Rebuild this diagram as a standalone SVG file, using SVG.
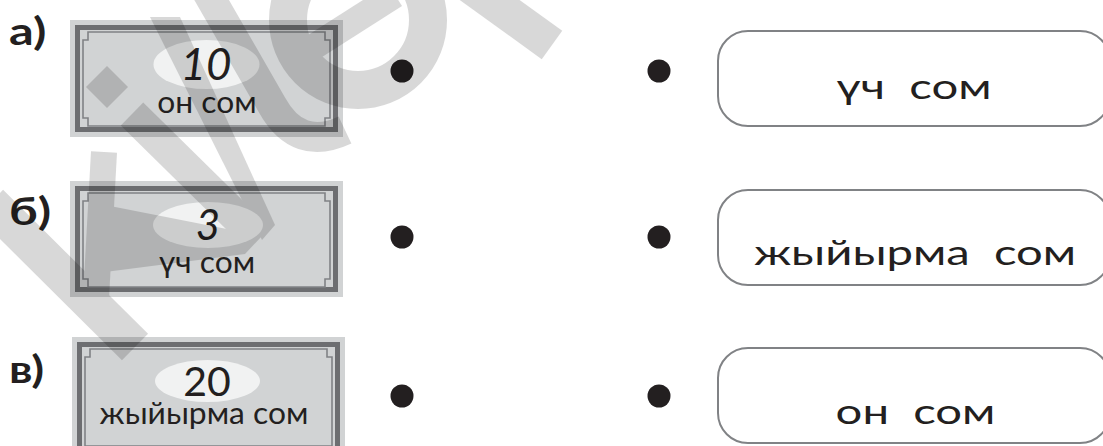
<svg xmlns="http://www.w3.org/2000/svg" width="1103" height="446" viewBox="0 0 1103 446">
<style>
.lbl{font-family:Lato,"Open Sans","Liberation Sans",sans-serif;font-weight:700;font-size:39px;fill:#231f20}
.outer{fill:#d1d3d4}
.border{fill:#d1d3d4;stroke:#6d6e71;stroke-width:5}
.frame{fill:none;stroke:#808285;stroke-width:1.6}
.oval{fill:#f1f2f2}
.num{font-family:Lato,"Open Sans","Liberation Sans",sans-serif;fill:#231f20;text-anchor:middle}
.word{font-family:Lato,"Open Sans","Liberation Sans",sans-serif;font-size:30px;fill:#231f20;text-anchor:middle}
.dot{fill:#231f20}
.box{fill:#fff;stroke:#808285;stroke-width:2}
.ans{font-family:Lato,"Open Sans","Liberation Sans",sans-serif;font-size:35px;fill:#231f20;text-anchor:middle;white-space:pre}
</style>
<rect width="1103" height="446" fill="#fff"/>

<g id="labels">
<text class="lbl" transform="translate(9,45) scale(1.25,1)">а)</text>
<text class="lbl" transform="translate(9,225) scale(1.25,1)">б)</text>
<text class="lbl" transform="translate(9,383) scale(1.2,1)">в)</text>
</g>

<g id="note10">
<rect class="outer" x="70" y="20" width="273" height="117"/>
<rect class="border" x="77.5" y="27.5" width="258" height="102"/>
<path class="frame" d="M88 32H325V40H330V118H325V126H88V118H83V40H88Z"/>
<ellipse class="oval" cx="206.5" cy="64.5" rx="53" ry="24.5"/>
<text class="num" x="206" y="80" font-size="44" font-style="italic">10</text>
<text class="word" transform="translate(207,113) scale(1.06,1)">он сом</text>
</g>

<g id="note3">
<rect class="outer" x="70" y="181" width="273" height="116"/>
<rect class="border" x="77.5" y="188.5" width="258" height="101"/>
<path class="frame" d="M88 193H325V201H330V279H325V287H88V279H83V201H88Z"/>
<ellipse class="oval" cx="208" cy="225" rx="55" ry="23"/>
<text class="num" x="208" y="240" font-size="42" font-style="italic">3</text>
<text class="word" transform="translate(207,273) scale(1.06,1)">үч сом</text>
</g>

<g id="note20">
<rect class="outer" x="72" y="337" width="273" height="120"/>
<rect class="border" x="79.5" y="344.5" width="258" height="110"/>
<path class="frame" d="M90 349H327V357H332V446H85V357H90Z"/>
<ellipse class="oval" cx="207.5" cy="381" rx="52.5" ry="21"/>
<text class="num" x="207" y="396" font-size="41">20</text>
<text class="word" transform="translate(204,424) scale(1.06,1)">жыйырма сом</text>
</g>

<g id="dots">
<circle class="dot" cx="402" cy="71" r="11.5"/>
<circle class="dot" cx="659" cy="71" r="11.5"/>
<circle class="dot" cx="402" cy="237" r="11.5"/>
<circle class="dot" cx="659" cy="237" r="11.5"/>
<circle class="dot" cx="402" cy="396" r="11.5"/>
<circle class="dot" cx="659" cy="396" r="11.5"/>
</g>

<g id="answer1">
<rect class="box" x="718" y="31" width="392" height="95" rx="30"/>
<text class="ans" transform="translate(914,99) scale(1.35,1)">үч  сом</text>
</g>
<g id="answer2">
<rect class="box" x="718" y="190" width="392" height="95" rx="30"/>
<text class="ans" transform="translate(915,265) scale(1.35,1)">жыйырма  сом</text>
</g>
<g id="answer3">
<rect class="box" x="718" y="348" width="392" height="95" rx="30"/>
<text class="ans" transform="translate(915.5,424) scale(1.35,1)">он  сом</text>
</g>

<g id="connectors"></g>

<g id="watermark" opacity="0.15" fill="#000" stroke="#000">
<line x1="-10" y1="203" x2="135" y2="347" stroke-width="37"/>
<line x1="96" y1="298" x2="104" y2="152" stroke-width="26"/>
<polygon points="105,205 262,236 245,254 105,272" stroke="none"/>
<polygon points="107,66 128,87 107,108 86,87" stroke="none"/>
<line x1="132" y1="114" x2="258" y2="238" stroke-width="32"/>
<polygon points="150,17 180,17 275,225 262,240" stroke="none"/>
<path d="M203 -15L272 105Q298 152 345 130" fill="none" stroke-width="30"/>
<circle cx="358" cy="20" r="70" fill="none" stroke-width="38"/>
<line x1="290" y1="62" x2="395" y2="-5" stroke-width="26"/>
<line x1="455" y1="-25" x2="552" y2="45" stroke-width="35"/>
</g>
</svg>
